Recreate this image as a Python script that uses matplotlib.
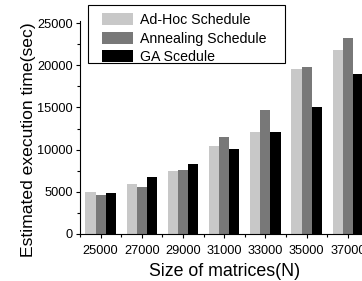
import matplotlib
matplotlib.use("Agg")
import matplotlib.pyplot as plt
import numpy as np
from matplotlib.container import BarContainer
from matplotlib.patches import Rectangle
from matplotlib.legend_handler import HandlerPatch, update_from_first_child
from matplotlib.ticker import MultipleLocator

sizes = [25000, 27000, 29000, 31000, 33000, 35000, 37000]
adhoc = [4980, 5920, 7460, 10390, 12120, 19510, 21800]
annealing = [4660, 5530, 7580, 11460, 14690, 19830, 23260]
ga = [4900, 6750, 8330, 10030, 12120, 15060, 18960]
series = [("Ad-Hoc Schedule", adhoc, "#c8c8c8"),
          ("Annealing Schedule", annealing, "#787878"),
          ("GA Scedule", ga, "#000000")]

plt.rcParams["font.family"] = ["Liberation Sans", "DejaVu Sans"]

W, H = 362, 281
fig = plt.figure(figsize=(W / 100, H / 100), dpi=100)
# axes runs past the right edge of the figure, as in the cropped original
ax = fig.add_axes([80 / W, 47 / H, 288.4 / W, 213.5 / H])

x = np.array(sizes)
w = 490
for k, (name, vals, col) in enumerate(series):
    ax.bar(x + (k - 1) * w, vals, width=w, color=col, label=name, linewidth=0)

ax.set_xlim(24000, 38000)
ax.set_ylim(0, 25300)
ax.set_xticks(sizes)
ax.set_xticklabels([str(s) for s in sizes])
ax.xaxis.set_minor_locator(MultipleLocator(1000))
ax.yaxis.set_major_locator(MultipleLocator(5000))
ax.yaxis.set_minor_locator(MultipleLocator(2500))
for side in ("top", "right"):
    ax.spines[side].set_visible(False)
ax.tick_params(which="major", direction="out", length=3, width=0.8, labelsize=9.2)
ax.tick_params(which="minor", direction="out", length=2, width=0.8)
ax.tick_params(axis="x", pad=5)
ax.tick_params(axis="y", pad=2)

ax.set_xlabel("Size of matrices(N)", fontsize=12.8, labelpad=4)
ax.set_ylabel("Estimated execution time(sec)", fontsize=12.6)
ax.yaxis.set_label_coords((36 - 80) / 288.4, (234 - 140) / 213.5)


def narrow_box(legend, orig_handle, xdescent, ydescent, width, height, fontsize):
    # swatch sits at the right part of the handle slot, leaving a left gap
    pw = 22.3
    return Rectangle((-xdescent + width - pw, -ydescent), pw, height)


leg = ax.legend(loc="upper left", bbox_to_anchor=(88 / W, 1 - 7.5 / H),
                bbox_transform=fig.transFigure, fontsize=10.2, frameon=False,
                borderpad=0.4, handlelength=2.8, handleheight=0.92,
                labelspacing=0.31, handletextpad=0.45, borderaxespad=0,
                handler_map={BarContainer: HandlerPatch(
                    patch_func=narrow_box, update_func=update_from_first_child)})
# legend frame drawn by hand: the original box has wide side padding
fig.patches.append(Rectangle((88 / W, 1 - 63 / H), (285 - 88) / W, 58 / H,
                             transform=fig.transFigure, facecolor="none",
                             edgecolor="black", linewidth=0.8, zorder=5))

fig.savefig("out.png", dpi=100)
